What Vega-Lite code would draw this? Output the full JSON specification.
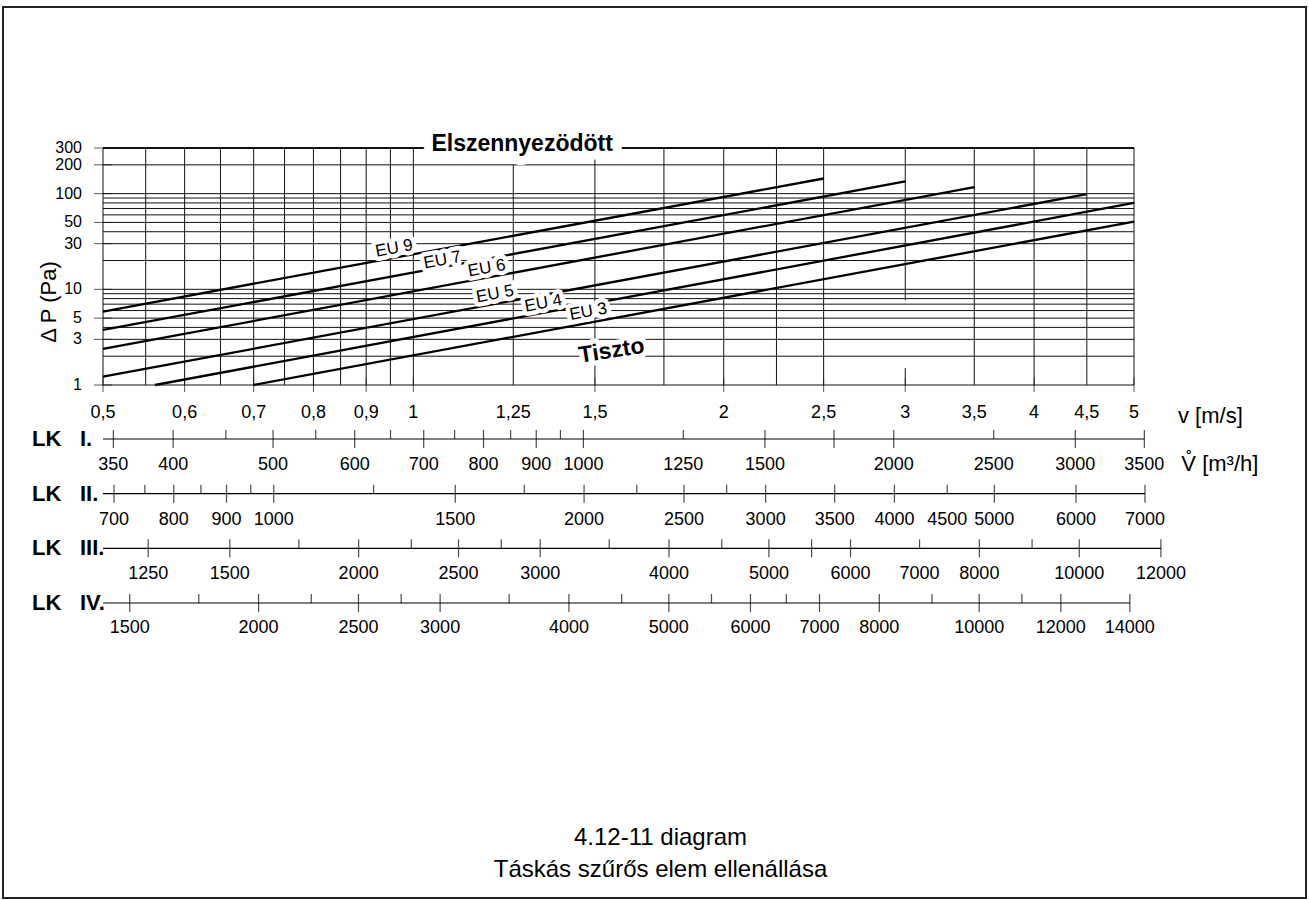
{
"$schema":"https://vega.github.io/schema/vega-lite/v6.json",
"width":1303,"height":891,"autosize":"none",
"padding":{"left":3,"top":7,"right":3,"bottom":2},
"background":"white",
"config":{"view":{"stroke":"#222","strokeWidth":2}},
"title":{"text":["4.12-11 diagram","Táskás szűrős elem ellenállása"],"orient":"bottom","anchor":"middle","frame":"group","offset":-72,"dx":6,"font":"Liberation Sans, Arial, sans-serif","fontSize":24,"fontWeight":"normal","color":"#000","lineHeight":32,"baseline":"top"},
"layer":[
{"layer":[
 {"data":{"values":[{"dp":1},{"dp":2},{"dp":3},{"dp":4},{"dp":5},{"dp":6},{"dp":7},{"dp":8},{"dp":9},{"dp":10},{"dp":20},{"dp":30},{"dp":40},{"dp":50},{"dp":60},{"dp":70},{"dp":80},{"dp":90},{"dp":100},{"dp":200},{"dp":300}]},
  "mark":{"type":"rule","color":"#111"},
  "encoding":{"y":{"field":"dp","type":"quantitative","scale":{"type":"log","domain":[1,300],"range":[378,141],"nice":false},"axis":null},
   "x":{"datum":0.5,"type":"quantitative","scale":{"type":"log","domain":[0.5,5],"range":[100,1131],"nice":false},"axis":null},
   "x2":{"datum":5},
   "strokeWidth":{"condition":{"test":"datum.dp == 300","value":2},"value":1}}},
 {"data":{"values":[{"v":0.5,"lo":1,"hi":300},{"v":0.55,"lo":1,"hi":300},{"v":0.6,"lo":1,"hi":300},{"v":0.65,"lo":1,"hi":300},{"v":0.7,"lo":1,"hi":300},{"v":0.75,"lo":1,"hi":300},{"v":0.8,"lo":1,"hi":300},{"v":0.85,"lo":1,"hi":300},{"v":0.9,"lo":1,"hi":300},{"v":0.95,"lo":1,"hi":300},{"v":1,"lo":1,"hi":300},{"v":1.25,"lo":1,"hi":200},{"v":1.5,"lo":1,"hi":300},{"v":1.75,"lo":1,"hi":300},{"v":2,"lo":1,"hi":300},{"v":2.25,"lo":1,"hi":300},{"v":2.5,"lo":1,"hi":300},{"v":3,"lo":1,"hi":1.5},{"v":3,"lo":7.7,"hi":300},{"v":3.5,"lo":1,"hi":300},{"v":4,"lo":1,"hi":300},{"v":4.5,"lo":1,"hi":300},{"v":5,"lo":1,"hi":300}]},
  "mark":{"type":"rule","color":"#111","strokeWidth":1},
  "encoding":{"x":{"field":"v","type":"quantitative","scale":{"type":"log","domain":[0.5,5],"range":[100,1131],"nice":false},"axis":null},
   "y":{"field":"lo","type":"quantitative","scale":{"type":"log","domain":[1,300],"range":[378,141],"nice":false},"axis":null},
   "y2":{"field":"hi"}}},
 {"data":{"values":[{"dp":1,"t":"1"},{"dp":3,"t":"3"},{"dp":5,"t":"5"},{"dp":10,"t":"10"},{"dp":30,"t":"30"},{"dp":50,"t":"50"},{"dp":100,"t":"100"},{"dp":200,"t":"200"},{"dp":300,"t":"300"}]},
  "encoding":{"y":{"field":"dp","type":"quantitative","scale":{"type":"log","domain":[1,300],"range":[378,141],"nice":false},"axis":null},
   "x":{"datum":0.5,"type":"quantitative","scale":{"type":"log","domain":[0.5,5],"range":[100,1131],"nice":false},"axis":null}},
  "layer":[
   {"mark":{"type":"tick","orient":"horizontal","size":18,"thickness":1,"color":"#111"}},
   {"mark":{"type":"text","align":"right","baseline":"middle","dx":-21,"font":"Liberation Sans, Arial, sans-serif","fontSize":16,"color":"#000"},"encoding":{"text":{"field":"t"}}}
  ]},
 {"data":{"values":[{"t":"Δ P  (Pa)","v":0.5,"dp":7.37}]},
  "mark":{"type":"text","angle":-90,"align":"center","baseline":"middle","dy":-54,"font":"Liberation Sans, Arial, sans-serif","fontSize":22,"color":"#000"},
  "encoding":{"x":{"field":"v","type":"quantitative","scale":{"type":"log","domain":[0.5,5],"range":[100,1131],"nice":false},"axis":null},
   "y":{"field":"dp","type":"quantitative","scale":{"type":"log","domain":[1,300],"range":[378,141],"nice":false},"axis":null},
   "text":{"field":"t"}}},
 {"data":{"values":[{"v":0.5,"t":"0,5","e":true},{"v":0.6,"t":"0,6","e":true},{"v":0.7,"t":"0,7","e":true},{"v":0.8,"t":"0,8","e":true},{"v":0.9,"t":"0,9","e":true},{"v":1,"t":"1","e":true},{"v":1.25,"t":"1,25","e":false},{"v":1.5,"t":"1,5","e":true},{"v":2,"t":"2","e":true},{"v":2.5,"t":"2,5","e":true},{"v":3,"t":"3","e":true},{"v":3.5,"t":"3,5","e":false},{"v":4,"t":"4","e":true},{"v":4.5,"t":"4,5","e":false},{"v":5,"t":"5","e":true}]},
  "encoding":{"x":{"field":"v","type":"quantitative","scale":{"type":"log","domain":[0.5,5],"range":[100,1131],"nice":false},"axis":null},
   "y":{"datum":1,"type":"quantitative","scale":{"type":"log","domain":[1,300],"range":[378,141],"nice":false},"axis":null}},
  "layer":[
   {"transform":[{"filter":"datum.e"}],"mark":{"type":"tick","orient":"vertical","size":14,"thickness":1,"color":"#111"}},
   {"mark":{"type":"text","baseline":"middle","dy":28,"font":"Liberation Sans, Arial, sans-serif","fontSize":18,"color":"#000"},"encoding":{"text":{"field":"t"}}}
  ]},
 {"data":{"values":[{"t":"v  [m/s]"}]},
  "mark":{"type":"text","align":"left","baseline":"middle","dx":44,"dy":31,"font":"Liberation Sans, Arial, sans-serif","fontSize":22,"color":"#000"},
  "encoding":{"x":{"datum":5,"type":"quantitative","scale":{"type":"log","domain":[0.5,5],"range":[100,1131],"nice":false},"axis":null},
   "y":{"datum":1,"type":"quantitative","scale":{"type":"log","domain":[1,300],"range":[378,141],"nice":false},"axis":null},
   "text":{"field":"t"}}},
 {"data":{"values":[{"c":"EU 9","v":0.5,"dp":5.86},{"c":"EU 9","v":2.5,"dp":144},{"c":"EU 7","v":0.5,"dp":3.76},{"c":"EU 7","v":3,"dp":134},{"c":"EU 6","v":0.5,"dp":2.38},{"c":"EU 6","v":3.5,"dp":117},{"c":"EU 5","v":0.5,"dp":1.22},{"c":"EU 5","v":4.5,"dp":99},{"c":"EU 4","v":0.5615,"dp":1},{"c":"EU 4","v":5,"dp":80},{"c":"EU 3","v":0.7,"dp":1},{"c":"EU 3","v":5,"dp":51}]},
  "mark":{"type":"line","color":"#000","strokeWidth":2.3},
  "encoding":{"x":{"field":"v","type":"quantitative","scale":{"type":"log","domain":[0.5,5],"range":[100,1131],"nice":false},"axis":null},
   "y":{"field":"dp","type":"quantitative","scale":{"type":"log","domain":[1,300],"range":[378,141],"nice":false},"axis":null},
   "detail":{"field":"c"}}},
 {"data":{"values":[{"t":"EU 9","v":0.958,"dp":26.8},{"t":"EU 7","v":1.067,"dp":20.2},{"t":"EU 6","v":1.178,"dp":16.6},{"t":"EU 5","v":1.2,"dp":8.93},{"t":"EU 4","v":1.337,"dp":7.14},{"t":"EU 3","v":1.478,"dp":5.83}]},
  "encoding":{"x":{"field":"v","type":"quantitative","scale":{"type":"log","domain":[0.5,5],"range":[100,1131],"nice":false},"axis":null},
   "y":{"field":"dp","type":"quantitative","scale":{"type":"log","domain":[1,300],"range":[378,141],"nice":false},"axis":null},
   "text":{"field":"t"}},
  "layer":[
   {"mark":{"type":"text","angle":-10.5,"baseline":"middle","font":"Liberation Sans, Arial, sans-serif","fontSize":17,"fill":"#fff","stroke":"#fff","strokeWidth":9,"strokeJoin":"round"}},
   {"mark":{"type":"text","angle":-10.5,"baseline":"middle","font":"Liberation Sans, Arial, sans-serif","fontSize":17,"fill":"#000"}}
  ]},
 {"data":{"values":[{"t":"Tiszto","v":1.557,"dp":2.28}]},
  "encoding":{"x":{"field":"v","type":"quantitative","scale":{"type":"log","domain":[0.5,5],"range":[100,1131],"nice":false},"axis":null},
   "y":{"field":"dp","type":"quantitative","scale":{"type":"log","domain":[1,300],"range":[378,141],"nice":false},"axis":null},
   "text":{"field":"t"}},
  "layer":[
   {"mark":{"type":"text","angle":-9,"baseline":"middle","font":"Liberation Sans, Arial, sans-serif","fontWeight":"bold","fontSize":23,"fill":"#fff","stroke":"#fff","strokeWidth":10,"strokeJoin":"round"}},
   {"mark":{"type":"text","angle":-9,"baseline":"middle","font":"Liberation Sans, Arial, sans-serif","fontWeight":"bold","fontSize":23,"fill":"#000"}}
  ]},
 {"data":{"values":[{"t":"Elszennyezödött","v":1.275,"dp":300}]},
  "encoding":{"x":{"field":"v","type":"quantitative","scale":{"type":"log","domain":[0.5,5],"range":[100,1131],"nice":false},"axis":null},
   "y":{"field":"dp","type":"quantitative","scale":{"type":"log","domain":[1,300],"range":[378,141],"nice":false},"axis":null},
   "text":{"field":"t"}},
  "layer":[
   {"mark":{"type":"text","baseline":"alphabetic","dy":3,"font":"Liberation Sans, Arial, sans-serif","fontWeight":"bold","fontSize":23,"fill":"#fff","stroke":"#fff","strokeWidth":18,"strokeJoin":"round"}},
   {"mark":{"type":"text","baseline":"alphabetic","dy":3,"font":"Liberation Sans, Arial, sans-serif","fontWeight":"bold","fontSize":23,"fill":"#000"}}
  ]}
]},
{"encoding":{"y":{"datum":"I","type":"ordinal","scale":{"type":"point","domain":["I","II","III","IV"],"range":[432,596],"padding":0},"axis":null}},
 "layer":[
 {"data":{"values":[{"a":342,"b":3500}]},"mark":{"type":"rule","color":"#000","strokeWidth":1.2},
  "encoding":{"x":{"field":"a","type":"quantitative","scale":{"type":"log","domain":[342,3420],"range":[100,1131],"nice":false},"axis":null},"x2":{"field":"b"}}},
 {"data":{"values":[{"q":350,"L":true,"t":"350"},{"q":400,"L":true,"t":"400"},{"q":450,"L":false},{"q":500,"L":true,"t":"500"},{"q":550,"L":false},{"q":600,"L":true,"t":"600"},{"q":650,"L":false},{"q":700,"L":true,"t":"700"},{"q":750,"L":false},{"q":800,"L":true,"t":"800"},{"q":850,"L":false},{"q":900,"L":true,"t":"900"},{"q":950,"L":false},{"q":1000,"L":true,"t":"1000"},{"q":1250,"L":false,"t":"1250"},{"q":1500,"L":true,"t":"1500"},{"q":1750,"L":true},{"q":2000,"L":true,"t":"2000"},{"q":2500,"L":false,"t":"2500"},{"q":3000,"L":true,"t":"3000"},{"q":3500,"L":true,"t":"3500"}]},
  "encoding":{"x":{"field":"q","type":"quantitative","scale":{"type":"log","domain":[342,3420],"range":[100,1131],"nice":false},"axis":null}},
  "layer":[
   {"transform":[{"filter":"datum.L"}],"mark":{"type":"tick","orient":"vertical","size":18,"thickness":1.2,"color":"#000"}},
   {"transform":[{"filter":"!datum.L"}],"mark":{"type":"tick","orient":"vertical","size":9,"thickness":1.2,"color":"#000","yOffset":-4.5}},
   {"transform":[{"filter":"datum.t"}],"mark":{"type":"text","baseline":"middle","dy":26,"font":"Liberation Sans, Arial, sans-serif","fontSize":18,"color":"#000"},"encoding":{"text":{"field":"t"}}}
  ]},
 {"data":{"values":[{"q":3500,"t":"V̊  [m³/h]"}]},
  "mark":{"type":"text","align":"left","baseline":"middle","dx":37,"dy":25,"font":"Liberation Sans, Arial, sans-serif","fontSize":22,"color":"#000"},
  "encoding":{"x":{"field":"q","type":"quantitative","scale":{"type":"log","domain":[342,3420],"range":[100,1131],"nice":false},"axis":null},"text":{"field":"t"}}}
]},
{"encoding":{"y":{"datum":"II","type":"ordinal","scale":{"type":"point","domain":["I","II","III","IV"],"range":[432,596],"padding":0},"axis":null}},
 "layer":[
 {"data":{"values":[{"a":683,"b":7000}]},"mark":{"type":"rule","color":"#000","strokeWidth":1.2},
  "encoding":{"x":{"field":"a","type":"quantitative","scale":{"type":"log","domain":[683,6830],"range":[100,1131],"nice":false},"axis":null},"x2":{"field":"b"}}},
 {"data":{"values":[{"q":700,"L":true,"t":"700"},{"q":750,"L":false},{"q":800,"L":true,"t":"800"},{"q":850,"L":false},{"q":900,"L":true,"t":"900"},{"q":950,"L":false},{"q":1000,"L":true,"t":"1000"},{"q":1250,"L":false},{"q":1500,"L":true,"t":"1500"},{"q":1750,"L":false},{"q":2000,"L":true,"t":"2000"},{"q":2250,"L":false},{"q":2500,"L":true,"t":"2500"},{"q":2750,"L":false},{"q":3000,"L":true,"t":"3000"},{"q":3500,"L":true,"t":"3500"},{"q":4000,"L":true,"t":"4000"},{"q":4500,"L":false,"t":"4500"},{"q":5000,"L":true,"t":"5000"},{"q":6000,"L":true,"t":"6000"},{"q":7000,"L":true,"t":"7000"}]},
  "encoding":{"x":{"field":"q","type":"quantitative","scale":{"type":"log","domain":[683,6830],"range":[100,1131],"nice":false},"axis":null}},
  "layer":[
   {"transform":[{"filter":"datum.L"}],"mark":{"type":"tick","orient":"vertical","size":18,"thickness":1.2,"color":"#000"}},
   {"transform":[{"filter":"!datum.L"}],"mark":{"type":"tick","orient":"vertical","size":9,"thickness":1.2,"color":"#000","yOffset":-4.5}},
   {"transform":[{"filter":"datum.t"}],"mark":{"type":"text","baseline":"middle","dy":26,"font":"Liberation Sans, Arial, sans-serif","fontSize":18,"color":"#000"},"encoding":{"text":{"field":"t"}}}
  ]}
]},
{"encoding":{"y":{"datum":"III","type":"ordinal","scale":{"type":"point","domain":["I","II","III","IV"],"range":[432,596],"padding":0},"axis":null}},
 "layer":[
 {"data":{"values":[{"a":1130,"b":12000}]},"mark":{"type":"rule","color":"#000","strokeWidth":1.2},
  "encoding":{"x":{"field":"a","type":"quantitative","scale":{"type":"log","domain":[1130,11300],"range":[100,1131],"nice":false},"axis":null},"x2":{"field":"b"}}},
 {"data":{"values":[{"q":1250,"L":true,"t":"1250"},{"q":1500,"L":true,"t":"1500"},{"q":1750,"L":false},{"q":2000,"L":true,"t":"2000"},{"q":2250,"L":false},{"q":2500,"L":true,"t":"2500"},{"q":2750,"L":false},{"q":3000,"L":true,"t":"3000"},{"q":3500,"L":false},{"q":4000,"L":true,"t":"4000"},{"q":4500,"L":false},{"q":5000,"L":true,"t":"5000"},{"q":5500,"L":true},{"q":6000,"L":true,"t":"6000"},{"q":7000,"L":false,"t":"7000"},{"q":8000,"L":true,"t":"8000"},{"q":9000,"L":false},{"q":10000,"L":true,"t":"10000"},{"q":12000,"L":true,"t":"12000"}]},
  "encoding":{"x":{"field":"q","type":"quantitative","scale":{"type":"log","domain":[1130,11300],"range":[100,1131],"nice":false},"axis":null}},
  "layer":[
   {"transform":[{"filter":"datum.L"}],"mark":{"type":"tick","orient":"vertical","size":18,"thickness":1.2,"color":"#000"}},
   {"transform":[{"filter":"!datum.L"}],"mark":{"type":"tick","orient":"vertical","size":9,"thickness":1.2,"color":"#000","yOffset":-4.5}},
   {"transform":[{"filter":"datum.t"}],"mark":{"type":"text","baseline":"middle","dy":26,"font":"Liberation Sans, Arial, sans-serif","fontSize":18,"color":"#000"},"encoding":{"text":{"field":"t"}}}
  ]}
]},
{"encoding":{"y":{"datum":"IV","type":"ordinal","scale":{"type":"point","domain":["I","II","III","IV"],"range":[432,596],"padding":0},"axis":null}},
 "layer":[
 {"data":{"values":[{"a":1413,"b":14000}]},"mark":{"type":"rule","color":"#000","strokeWidth":1.2},
  "encoding":{"x":{"field":"a","type":"quantitative","scale":{"type":"log","domain":[1413,14130],"range":[100,1131],"nice":false},"axis":null},"x2":{"field":"b"}}},
 {"data":{"values":[{"q":1500,"L":true,"t":"1500"},{"q":1750,"L":false},{"q":2000,"L":true,"t":"2000"},{"q":2250,"L":false},{"q":2500,"L":true,"t":"2500"},{"q":2750,"L":false},{"q":3000,"L":true,"t":"3000"},{"q":3500,"L":false},{"q":4000,"L":true,"t":"4000"},{"q":4500,"L":false},{"q":5000,"L":true,"t":"5000"},{"q":5500,"L":false},{"q":6000,"L":true,"t":"6000"},{"q":6500,"L":false},{"q":7000,"L":true,"t":"7000"},{"q":8000,"L":true,"t":"8000"},{"q":9000,"L":false},{"q":10000,"L":true,"t":"10000"},{"q":11000,"L":false},{"q":12000,"L":true,"t":"12000"},{"q":14000,"L":true,"t":"14000"}]},
  "encoding":{"x":{"field":"q","type":"quantitative","scale":{"type":"log","domain":[1413,14130],"range":[100,1131],"nice":false},"axis":null}},
  "layer":[
   {"transform":[{"filter":"datum.L"}],"mark":{"type":"tick","orient":"vertical","size":18,"thickness":1.2,"color":"#000"}},
   {"transform":[{"filter":"!datum.L"}],"mark":{"type":"tick","orient":"vertical","size":9,"thickness":1.2,"color":"#000","yOffset":-4.5}},
   {"transform":[{"filter":"datum.t"}],"mark":{"type":"text","baseline":"middle","dy":25,"font":"Liberation Sans, Arial, sans-serif","fontSize":18,"color":"#000"},"encoding":{"text":{"field":"t"}}}
  ]}
]},
{"data":{"values":[{"r":"I","n":"I."},{"r":"II","n":"II."},{"r":"III","n":"III."},{"r":"IV","n":"IV."}]},
 "encoding":{"x":{"datum":0.5,"type":"quantitative","scale":{"type":"log","domain":[0.5,5],"range":[100,1131],"nice":false},"axis":null},
  "y":{"field":"r","type":"ordinal","scale":{"type":"point","domain":["I","II","III","IV"],"range":[432,596],"padding":0},"axis":null}},
 "layer":[
  {"mark":{"type":"text","align":"left","baseline":"middle","dx":-71,"font":"Liberation Sans, Arial, sans-serif","fontWeight":"bold","fontSize":22,"color":"#000"},"encoding":{"text":{"value":"LK"}}},
  {"mark":{"type":"text","align":"left","baseline":"middle","dx":-23,"font":"Liberation Sans, Arial, sans-serif","fontWeight":"bold","fontSize":22,"color":"#000"},"encoding":{"text":{"field":"n"}}}
 ]}
],
"resolve":{"scale":{"x":"independent","y":"independent"}}
}
